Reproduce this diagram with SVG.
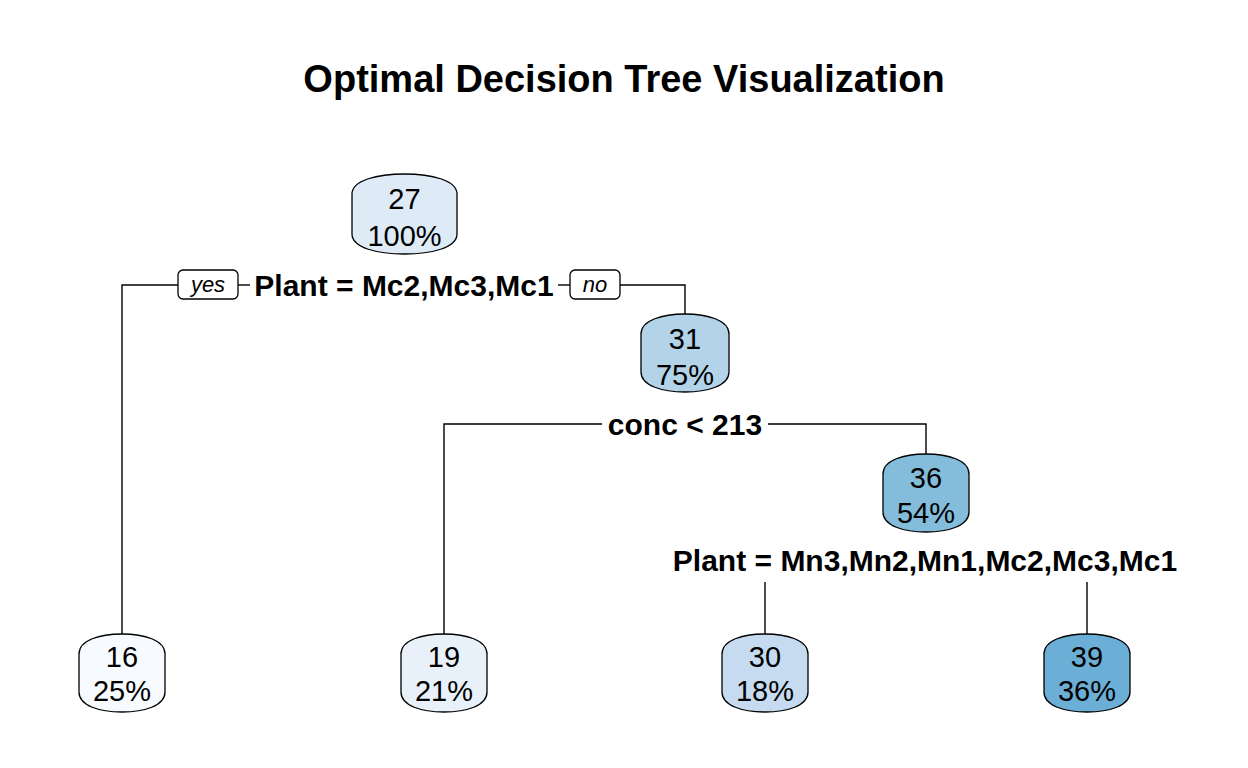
<svg xmlns="http://www.w3.org/2000/svg" width="1248" height="768" viewBox="0 0 1248 768">
<style>
.bg{fill:#ffffff}
.node{stroke:#000;stroke-width:1.3}
.num{font-family:"Liberation Sans",Arial,sans-serif;font-size:29px;fill:#000;text-anchor:middle}
.split{font-family:"Liberation Sans",Arial,sans-serif;font-size:30px;font-weight:bold;fill:#000;text-anchor:middle}
.title{font-family:"Liberation Sans",Arial,sans-serif;font-size:38px;font-weight:bold;fill:#000;text-anchor:middle}
.lab{fill:#fff;stroke:#000;stroke-width:1.3}
.labt{font-family:"Liberation Sans",Arial,sans-serif;font-size:22px;font-style:italic;fill:#000;text-anchor:middle}
.edge{fill:none;stroke:#000;stroke-width:1.4}
</style>
<rect class="bg" x="0" y="0" width="1248" height="768"/>
<text class="title" x="624" y="92">Optimal Decision Tree Visualization</text>
<g id="connectors">
<polyline class="edge" points="178,285 122,285 122,634"/>
<line class="edge" x1="238" y1="285" x2="250" y2="285"/>
<line class="edge" x1="558" y1="285" x2="570" y2="285"/>
<polyline class="edge" points="620,285 685,285 685,314"/>
<polyline class="edge" points="602,424 444,424 444,634"/>
<polyline class="edge" points="768,424 926,424 926,454"/>
<line class="edge" x1="765" y1="582" x2="765" y2="634"/>
<line class="edge" x1="1087" y1="582" x2="1087" y2="634"/>
<g id="label-yes"><rect class="lab" x="178" y="270" width="60" height="29" rx="5"/><text class="labt" x="208" y="292">yes</text></g>
<g id="label-no"><rect class="lab" x="570" y="270" width="50" height="29" rx="5"/><text class="labt" x="595" y="292">no</text></g>
</g>
<g id="split-root"><text class="split" x="404" y="296">Plant = Mc2,Mc3,Mc1</text></g>
<g id="split-31"><text class="split" x="685" y="435">conc &lt; 213</text></g>
<g id="split-36"><text class="split" x="925" y="571">Plant = Mn3,Mn2,Mn1,Mc2,Mc3,Mc1</text></g>
<g id="node-root">
<path class="node" fill="#DEEBF7" d="M352,194 C352,180 378,174 404.5,174 C431,174 457,180 457,194 L457,234 C457,248 431,254 404.5,254 C378,254 352,248 352,234 Z"/>
<text class="num" x="404.5" y="209">27</text><text class="num" x="404.5" y="246">100%</text>
</g>
<g id="node-31">
<path class="node" fill="#B3D3E8" d="M641,334 C641,320 663,314 685,314 C707,314 729,320 729,334 L729,372 C729,386 707,392 685,392 C663,392 641,386 641,372 Z"/>
<text class="num" x="685" y="349">31</text><text class="num" x="685" y="385">75%</text>
</g>
<g id="node-36">
<path class="node" fill="#84BCDB" d="M883,474 C883,460 904,454 926,454 C948,454 969,460 969,474 L969,512 C969,526 948,532 926,532 C904,532 883,526 883,512 Z"/>
<text class="num" x="926" y="488">36</text><text class="num" x="926" y="523">54%</text>
</g>
<g id="leaf-16">
<path class="node" fill="#F7FBFF" d="M79,654 C79,640 100,634 122,634 C144,634 165,640 165,654 L165,692 C165,706 144,712 122,712 C100,712 79,706 79,692 Z"/>
<text class="num" x="122" y="667">16</text><text class="num" x="122" y="701">25%</text>
</g>
<g id="leaf-19">
<path class="node" fill="#E8F1FA" d="M401,654 C401,640 422,634 444,634 C466,634 487,640 487,654 L487,692 C487,706 466,712 444,712 C422,712 401,706 401,692 Z"/>
<text class="num" x="444" y="667">19</text><text class="num" x="444" y="701">21%</text>
</g>
<g id="leaf-30">
<path class="node" fill="#C6DBEF" d="M722,654 C722,640 743,634 765,634 C787,634 808,640 808,654 L808,692 C808,706 787,712 765,712 C743,712 722,706 722,692 Z"/>
<text class="num" x="765" y="667">30</text><text class="num" x="765" y="701">18%</text>
</g>
<g id="leaf-39">
<path class="node" fill="#6BAED6" d="M1044,654 C1044,640 1065,634 1087,634 C1109,634 1130,640 1130,654 L1130,692 C1130,706 1109,712 1087,712 C1065,712 1044,706 1044,692 Z"/>
<text class="num" x="1087" y="667">39</text><text class="num" x="1087" y="701">36%</text>
</g>
</svg>
